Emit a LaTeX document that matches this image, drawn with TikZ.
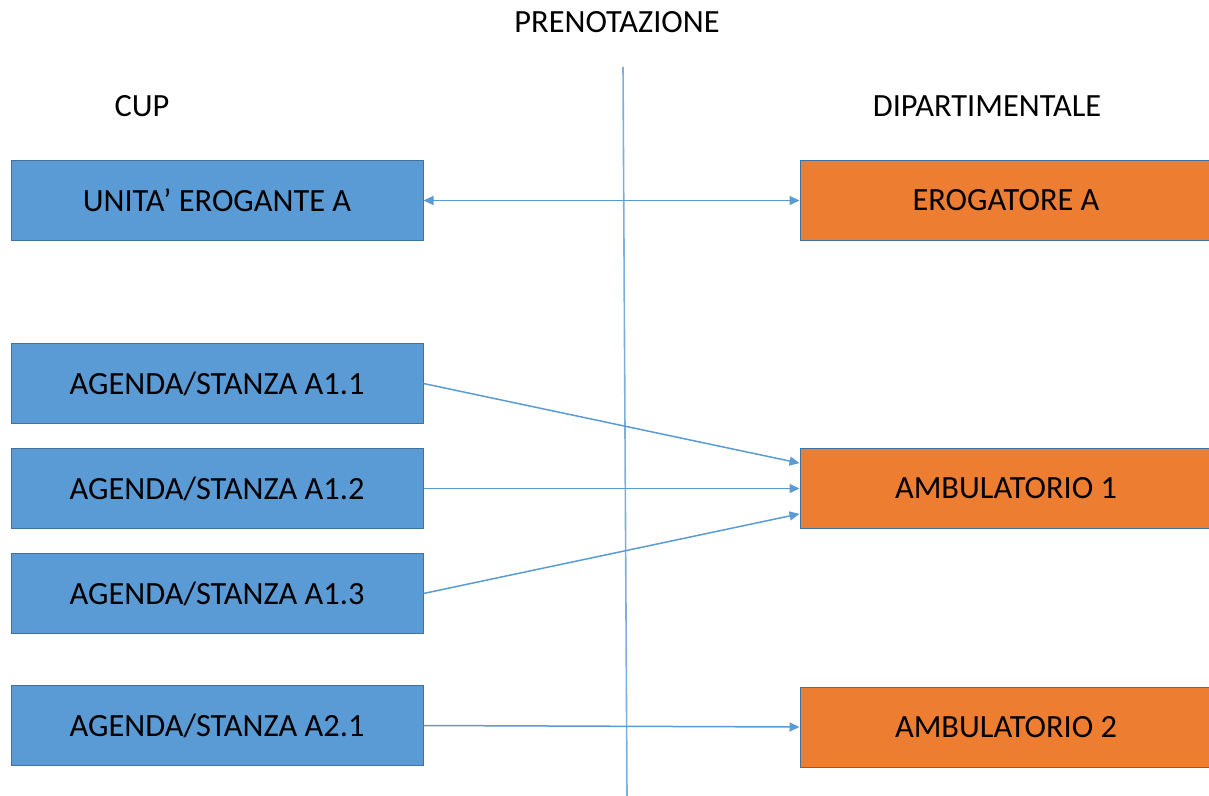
\documentclass[tikz,border=0pt]{standalone}
\usepackage{fontspec}
\setmainfont{Carlito}
\usetikzlibrary{arrows.meta}

\definecolor{cupblue}{HTML}{5B9BD5}
\definecolor{deptorange}{HTML}{ED7D31}
\definecolor{edgeblue}{HTML}{41719C}

\begin{document}
\begin{tikzpicture}[
    x = 0.5pt, y = -0.5pt,
    %
    box/.style = {draw = edgeblue, line width = 0.5pt,
      font = \fontsize{16.2}{19}\selectfont,
      minimum width = 206pt, minimum height = 40pt,
      inner sep = 0pt},
    %
    cup/.style = {box, fill = cupblue},
    dept/.style = {box, fill = deptorange},
    heading/.style = {font = \fontsize{16.2}{19}\selectfont},
    link/.style = {cupblue, line width = 0.75pt,
      -{Triangle[length = 5pt, width = 4.5pt]}},
    ]

    \useasboundingbox (0, 0) rectangle (1209, 796);

    % headings
    \node at (617, 22) [heading, name = PREN] {PRENOTAZIONE};
    \node at (142, 106) [heading, name = CUP] {CUP};
    \node at (987, 106) [heading, name = DIP] {DIPARTIMENTALE};

    % separator
    \coordinate (sep_top) at (623, 67);
    \coordinate (sep_bot) at (627, 796);
    \draw [cupblue!80, line width = 0.8pt] (sep_top) -- (sep_bot);

    % CUP side
    \node at (217, 200.5) [cup, name = U_A] {UNITA’ EROGANTE A};
    \node at (217, 383.5) [cup, name = A_11] {AGENDA/STANZA A1.1};
    \node at (217, 488.5) [cup, name = A_12] {AGENDA/STANZA A1.2};
    \node at (217, 593.5) [cup, name = A_13] {AGENDA/STANZA A1.3};
    \node at (217, 725.5) [cup, name = A_21] {AGENDA/STANZA A2.1};

    % departmental side
    \node at (1006, 200.5) [dept, name = E_A] {EROGATORE A};
    \node at (1006, 488.5) [dept, name = AMB_1] {AMBULATORIO 1};
    \node at (1006, 727) [dept, name = AMB_2] {AMBULATORIO 2};

    % links
    \draw [link, {Triangle[length = 5pt, width = 4.5pt]}-{Triangle[length = 5pt, width = 4.5pt]}]
    (U_A) -- (E_A);

    \draw [link] (A_11.east) -- (AMB_1.173);

    \draw [link] (A_12) -- (AMB_1);

    \draw [link] (A_13.east) -- (AMB_1.187);

    \draw [link] (A_21.east) -- (AMB_2.west);

  \end{tikzpicture}
\end{document}
